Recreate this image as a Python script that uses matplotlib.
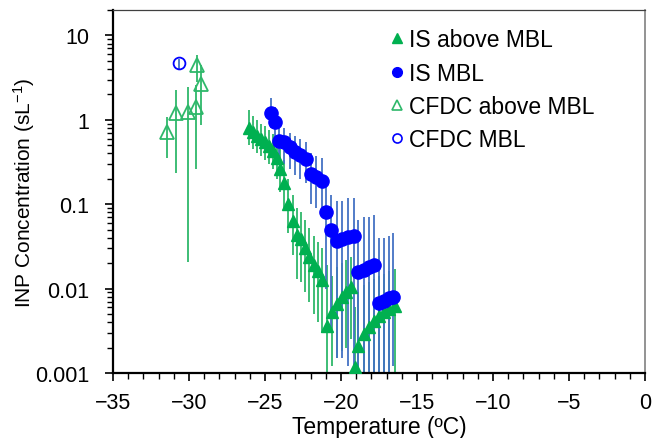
import matplotlib.pyplot as plt
from matplotlib.lines import Line2D

plt.rcParams['font.family'] = ['Liberation Sans', 'DejaVu Sans']
plt.rcParams['mathtext.fontset'] = 'custom'
plt.rcParams['mathtext.rm'] = 'Liberation Sans'
plt.rcParams['mathtext.it'] = 'Liberation Sans'

# IS above MBL (filled green triangles)
is_above_t = [-26.07, -25.81, -25.54, -25.28, -25.02, -24.76, -24.49, -24.23, -24.03, -23.77,
              -23.51, -23.18, -22.92, -22.66, -22.39, -22.13, -21.80, -21.54, -21.28, -20.95,
              -20.62, -20.29, -19.96, -19.70, -19.37, -19.11, -18.85, -18.52, -18.19, -17.86,
              -17.47, -17.14, -16.81, -16.48]
is_above_c = [0.81, 0.72, 0.65, 0.60, 0.55, 0.49, 0.43, 0.35, 0.26, 0.18,
              0.10, 0.064, 0.043, 0.039, 0.030, 0.024, 0.019, 0.016, 0.0127, 0.0036,
              0.0053, 0.0066, 0.0080, 0.0091, 0.0105, 0.00118, 0.0021, 0.0029, 0.0035, 0.0041,
              0.0048, 0.0053, 0.0058, 0.0062]
is_above_hi = [1.3, 1.1, 1.0, 0.9, 0.85, 0.75, 0.68, 0.58, 0.45, 0.33,
               0.2, 0.13, 0.09, 0.08, 0.065, 0.052, 0.042, 0.036, 0.03, 0.019,
               0.014, 0.018, 0.02, 0.022, 0.024, 0.006, 0.009, 0.011, 0.012, 0.013,
               0.014, 0.015, 0.016, 0.017]
is_above_lo = [0.5, 0.45, 0.4, 0.37, 0.33, 0.3, 0.26, 0.2, 0.14, 0.09,
               0.045, 0.025, 0.013, 0.012, 0.009, 0.007, 0.005, 0.004, 0.003, 0.0005,
               0.0012, 0.0015, 0.0018, 0.002, 0.0025, 0.0003, 0.0004, 0.0005, 0.0005, 0.0006,
               0.0006, 0.0007, 0.0007, 0.0008]

# IS MBL (filled blue circles)
is_mbl_t = [-24.63, -24.32, -24.08, -23.73, -23.38, -23.03, -22.68, -22.33, -21.98, -21.62,
            -21.28, -21.01, -20.64, -20.27, -19.92, -19.55, -19.17, -18.89, -18.52, -18.17,
            -17.80, -17.47, -17.14, -16.86, -16.59]
is_mbl_c = [1.22, 0.95, 0.556, 0.545, 0.47, 0.417, 0.38, 0.34, 0.23, 0.21,
            0.19, 0.081, 0.050, 0.037, 0.039, 0.041, 0.042, 0.0159, 0.0168, 0.018,
            0.0188, 0.0068, 0.0072, 0.0077, 0.0079]
is_mbl_hi = [1.8, 1.4, 0.8, 0.8, 0.7, 0.65, 0.6, 0.55, 0.4, 0.37,
             0.35, 0.2, 0.13, 0.11, 0.11, 0.12, 0.12, 0.065, 0.07, 0.07,
             0.075, 0.04, 0.04, 0.042, 0.045]
is_mbl_lo = [0.8, 0.6, 0.35, 0.3, 0.26, 0.22, 0.2, 0.18, 0.1, 0.09,
             0.08, 0.01, 0.003, 0.0015, 0.0015, 0.0012, 0.0012, 0.0008, 0.0008, 0.0008,
             0.0008, 0.0008, 0.0008, 0.0008, 0.0012]

# CFDC above MBL (open green triangles)
cfdc_above_t = [-31.47, -30.86, -30.05, -29.55, -29.50, -29.20]
cfdc_above_c = [0.71, 1.19, 1.24, 1.43, 4.45, 2.69]
cfdc_above_hi = [1.08, 2.24, 2.46, 2.6, 5.9, 4.4]
cfdc_above_lo = [0.35, 0.237, 0.0206, 0.26, 2.8, 0.86]

# CFDC MBL (open blue circle)
cfdc_mbl_t = [-30.67]
cfdc_mbl_c = [4.66]
cfdc_mbl_hi = [5.3]
cfdc_mbl_lo = [4.0]

green = '#00B050'
green_bar = '#2EB86A'
blue = '#0000FF'
blue_bar = '#4472C4'


def yerr(c, lo, hi):
    return [[v - l for v, l in zip(c, lo)], [h - v for v, h in zip(c, hi)]]


fig = plt.figure(figsize=(6.52, 4.39), dpi=100)
ax = fig.add_axes([0.1733, 0.148, 0.8160, 0.827])

ax.errorbar(cfdc_above_t, cfdc_above_c, yerr=yerr(cfdc_above_c, cfdc_above_lo, cfdc_above_hi),
            fmt='none', ecolor=green_bar, elinewidth=1.3, capsize=0, zorder=2)
ax.errorbar(cfdc_mbl_t, cfdc_mbl_c, yerr=yerr(cfdc_mbl_c, cfdc_mbl_lo, cfdc_mbl_hi),
            fmt='none', ecolor=blue_bar, elinewidth=1.3, capsize=0, zorder=2)
ax.errorbar(is_above_t, is_above_c, yerr=yerr(is_above_c, is_above_lo, is_above_hi),
            fmt='none', ecolor=green_bar, elinewidth=1.3, capsize=0, zorder=2)
ax.errorbar(is_mbl_t, is_mbl_c, yerr=yerr(is_mbl_c, is_mbl_lo, is_mbl_hi),
            fmt='none', ecolor=blue_bar, elinewidth=1.3, capsize=0, zorder=2)

ax.plot(is_above_t, is_above_c, '^', color=green, ms=9, mec=green, zorder=3)
ax.plot(is_mbl_t, is_mbl_c, 'o', color=blue, ms=9.5, mec=blue, zorder=4)
ax.plot(cfdc_above_t, cfdc_above_c, '^', mfc='none', mec=green_bar, mew=1.3, ms=9.5, zorder=3)
ax.plot(cfdc_mbl_t, cfdc_mbl_c, 'o', mfc='none', mec=blue, mew=1.3, ms=8.5, zorder=3)

ax.set_yscale('log')
ax.set_xlim(-35, 0)
ax.set_ylim(0.001, 20)
ax.set_xticks(range(-35, 1, 5))
ax.set_xticks(range(-35, 1, 1), minor=True)
ax.set_yticks([0.001, 0.01, 0.1, 1, 10])
ax.set_yticklabels(['0.001', '0.01', '0.1', '1', '10'])
ax.tick_params(axis='both', which='major', direction='out', length=6, width=1.2,
               labelsize=15.5)
ax.tick_params(axis='x', which='major', pad=8)
ax.tick_params(axis='y', which='major', pad=11)
ax.tick_params(axis='both', which='minor', direction='out', length=4, width=1.0)

for s in ['left', 'bottom']:
    ax.spines[s].set_linewidth(1.6)
    ax.spines[s].set_color('black')
ax.spines['top'].set_linewidth(0.9)
ax.spines['top'].set_color('#404040')
ax.spines['right'].set_linewidth(1.2)
ax.spines['right'].set_color('#808080')

ax.set_xlabel('Temperature (ºC)', fontsize=16.5, labelpad=1)
ax.set_ylabel('INP Concentration (sL$^{-1}$)', fontsize=15, labelpad=-1)

handles = [
    Line2D([], [], ls='none', marker='^', color=green, ms=7.5),
    Line2D([], [], ls='none', marker='o', color=blue, ms=7),
    Line2D([], [], ls='none', marker='^', mfc='none', mec=green_bar, mew=1.2, ms=7.5),
    Line2D([], [], ls='none', marker='o', mfc='none', mec=blue, mew=1.2, ms=6.5),
]
labels = ['IS above MBL', 'IS MBL', 'CFDC above MBL', 'CFDC MBL']
ax.legend(handles, labels, loc='upper left', bbox_to_anchor=(0.504, 0.975), frameon=False,
          fontsize=16.5, handlelength=0.6, handletextpad=0.2, labelspacing=0.45,
          borderaxespad=0.0)

fig.savefig('out.png', dpi=100)
